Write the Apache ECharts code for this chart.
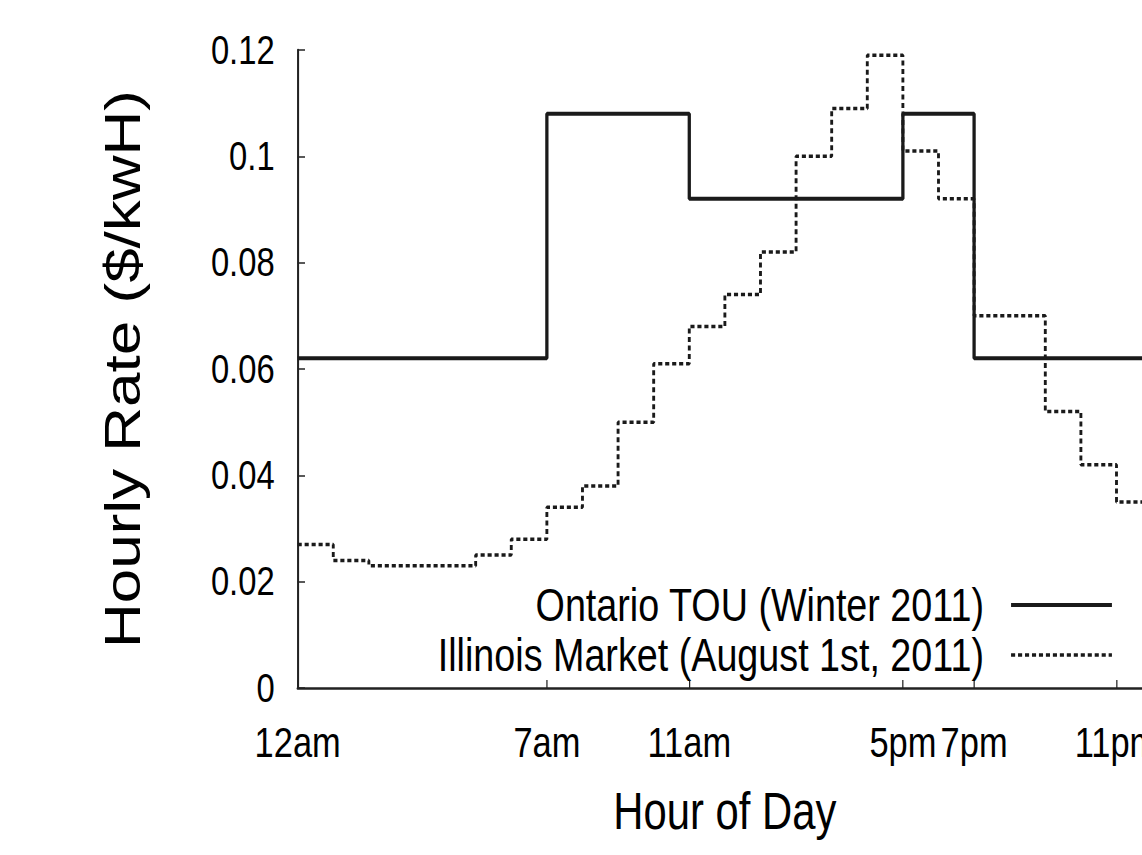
<!DOCTYPE html>
<html>
<head>
<meta charset="utf-8">
<title>Hourly Rate</title>
<script src="https://cdn.jsdelivr.net/npm/echarts@6/dist/echarts.min.js"></script>
<style>
  html, body { margin: 0; padding: 0; background: #fff; overflow: hidden; }
  /* the original figure is squeezed sideways and cut off on the right,
     so the chart is drawn wider and squeezed with a CSS scaleX */
  #chart { width: 1440px; height: 855px; transform: scaleX(0.82); transform-origin: 0 0; }
</style>
</head>
<body>
<div id="chart"></div>
<script>
// hour ticks on the x axis
const xTickHours = [0, 7, 11, 17, 19, 23]
const xTickLabels = ['12am', '7am', '11am', '5pm', '7pm', '11pm']

// Ontario TOU: rate starts at each hour and holds until the next one (last runs to 24)
const touStartHour = [0, 7, 11, 17, 19]
const touRate = [0.062, 0.108, 0.092, 0.108, 0.062]

// Illinois market price, one value per hour 0..23
const illinoisRate = [
  0.027, 0.024, 0.023, 0.023, 0.023, 0.025, 0.028, 0.034,
  0.038, 0.050, 0.061, 0.068, 0.074, 0.082, 0.100, 0.109,
  0.119, 0.101, 0.092, 0.070, 0.070, 0.052, 0.042, 0.035
]

const font = '"Liberation Sans", Arial, sans-serif'
const ink = '#000'

function stepData (starts, values, end) {
  let pts = starts.map((h, i) => [h, values[i]])
  pts.push([end, values[values.length - 1]])
  return pts
}

const chart = echarts.init(document.getElementById('chart'), null, { renderer: 'svg' })
chart.setOption({
  backgroundColor: '#fff',
  animation: false,
  grid: { left: 363, right: 35, top: 50, bottom: 167 },
  legend: {
    orient: 'vertical',
    right: 77,
    top: 577,
    align: 'right',
    itemWidth: 123,
    itemHeight: 14,
    itemGap: 4,
    itemStyle: { opacity: 0 },
    lineStyle: { width: 'inherit' },
    textStyle: { fontFamily: font, fontSize: 46, lineHeight: 46, color: ink, padding: [0, 28, 0, 0] },
    data: ['Ontario TOU (Winter 2011)', 'Illinois Market (August 1st, 2011)']
  },
  xAxis: {
    type: 'value',
    min: 0,
    max: 24,
    name: 'Hour of Day',
    nameLocation: 'middle',
    nameGap: 98,
    nameTextStyle: { fontFamily: font, fontSize: 51, color: ink },
    axisLine: { lineStyle: { color: '#222', width: 2.5 } },
    axisTick: { customValues: xTickHours, inside: true, length: 8, lineStyle: { color: '#222', width: 1.5 } },
    axisLabel: {
      customValues: xTickHours,
      margin: 33,
      fontFamily: font,
      fontSize: 42,
      color: ink,
      formatter: v => xTickLabels[xTickHours.indexOf(v)]
    },
    splitLine: { show: false }
  },
  yAxis: {
    type: 'value',
    min: 0,
    max: 0.12,
    interval: 0.02,
    name: 'Hourly Rate ($/kwH)',
    nameLocation: 'middle',
    nameRotate: 90,
    nameGap: 182,
    nameTextStyle: { fontFamily: font, fontSize: 62, color: ink },
    axisLine: { show: true, lineStyle: { color: '#222', width: 2.5 } },
    axisTick: { show: true, inside: true, length: 9, lineStyle: { color: '#222', width: 1.5 } },
    axisLabel: { margin: 28, fontFamily: font, fontSize: 40, color: ink },
    splitLine: { show: false }
  },
  series: [
    {
      name: 'Ontario TOU (Winter 2011)',
      type: 'line',
      step: 'end',
      symbol: 'none',
      lineStyle: { color: '#1a1a1a', width: 4 },
      itemStyle: { color: '#1a1a1a' },
      data: stepData(touStartHour, touRate, 24)
    },
    {
      name: 'Illinois Market (August 1st, 2011)',
      type: 'line',
      step: 'end',
      symbol: 'none',
      lineStyle: { color: '#1a1a1a', width: 3.5, type: [5, 3.5] },
      itemStyle: { color: '#1a1a1a' },
      data: stepData(illinoisRate.map((v, h) => h), illinoisRate, 24)
    }
  ]
})
</script>
</body>
</html>
